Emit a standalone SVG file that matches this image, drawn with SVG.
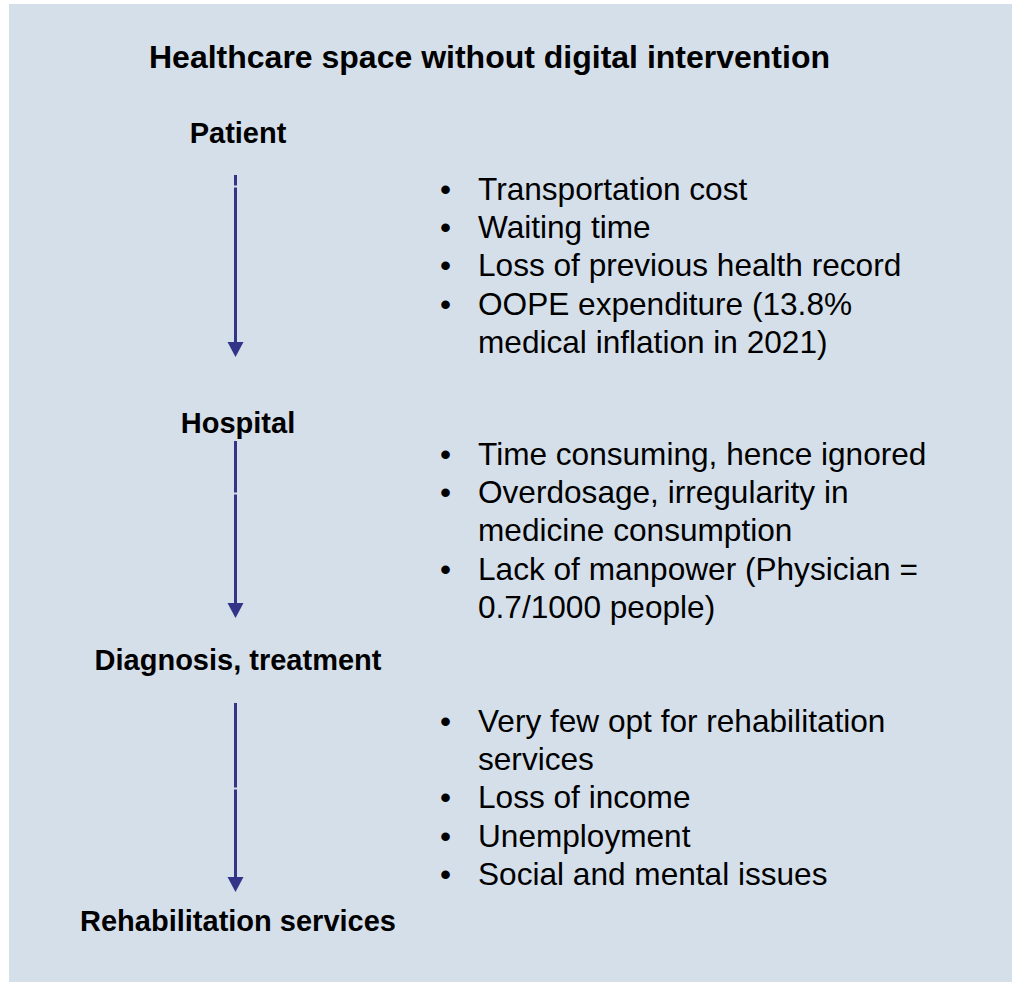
<svg xmlns="http://www.w3.org/2000/svg" width="1012" height="982" viewBox="0 0 1012 982">
<style>
.title{font-family:"Liberation Sans",Arial,sans-serif;font-weight:bold;font-size:32px;fill:#000;text-anchor:middle}
.label{font-family:"Liberation Sans",Arial,sans-serif;font-weight:bold;font-size:29px;fill:#000;text-anchor:middle}
.item{font-family:"Liberation Sans",Arial,sans-serif;font-size:31.6px;fill:#000}
.bul{font-family:"Liberation Sans",Arial,sans-serif;font-size:31.6px;fill:#000}
.conn{stroke:#333388;stroke-width:3;fill:none}
.head{fill:#333388}
</style>
<rect x="9" y="4" width="1003" height="978" fill="#D5DFEA"/>
<g id="title"><text class="title" x="489.5" y="68">Healthcare space without digital intervention</text></g>
<g id="node-patient"><text class="label" x="238" y="143">Patient</text></g>
<g id="node-hospital"><text class="label" x="238" y="433">Hospital</text></g>
<g id="node-diagnosis"><text class="label" x="238" y="670">Diagnosis, treatment</text></g>
<g id="node-rehab"><text class="label" x="238" y="931">Rehabilitation services</text></g>
<g id="connectors">
<path class="conn" d="M235.5 175 V185.5 M235.5 187.5 V343"/>
<polygon class="head" points="227.5,342 243.5,342 235.5,357"/>
<path class="conn" d="M235.5 441 V492.5 M235.5 494.5 V604"/>
<polygon class="head" points="227.5,603 243.5,603 235.5,618"/>
<path class="conn" d="M235.5 703 V787.5 M235.5 789.5 V878"/>
<polygon class="head" points="227.5,877 243.5,877 235.5,892"/>
</g>
<g id="issues-1">
<text class="bul" x="440" y="200">•</text><text class="item" x="478" y="200">Transportation cost</text>
<text class="bul" x="440" y="238">•</text><text class="item" x="478" y="238">Waiting time</text>
<text class="bul" x="440" y="276">•</text><text class="item" x="478" y="276">Loss of previous health record</text>
<text class="bul" x="440" y="315">•</text><text class="item" x="478" y="315">OOPE expenditure (13.8%</text>
<text class="item" x="478" y="353">medical inflation in 2021)</text>
</g>
<g id="issues-2">
<text class="bul" x="440" y="465">•</text><text class="item" x="478" y="465">Time consuming, hence ignored</text>
<text class="bul" x="440" y="503">•</text><text class="item" x="478" y="503">Overdosage, irregularity in</text>
<text class="item" x="478" y="541">medicine consumption</text>
<text class="bul" x="440" y="580">•</text><text class="item" x="478" y="580">Lack of manpower (Physician =</text>
<text class="item" x="478" y="618">0.7/1000 people)</text>
</g>
<g id="issues-3">
<text class="bul" x="440" y="732">•</text><text class="item" x="478" y="732">Very few opt for rehabilitation</text>
<text class="item" x="478" y="770">services</text>
<text class="bul" x="440" y="808">•</text><text class="item" x="478" y="808">Loss of income</text>
<text class="bul" x="440" y="847">•</text><text class="item" x="478" y="847">Unemployment</text>
<text class="bul" x="440" y="885">•</text><text class="item" x="478" y="885">Social and mental issues</text>
</g>
</svg>
